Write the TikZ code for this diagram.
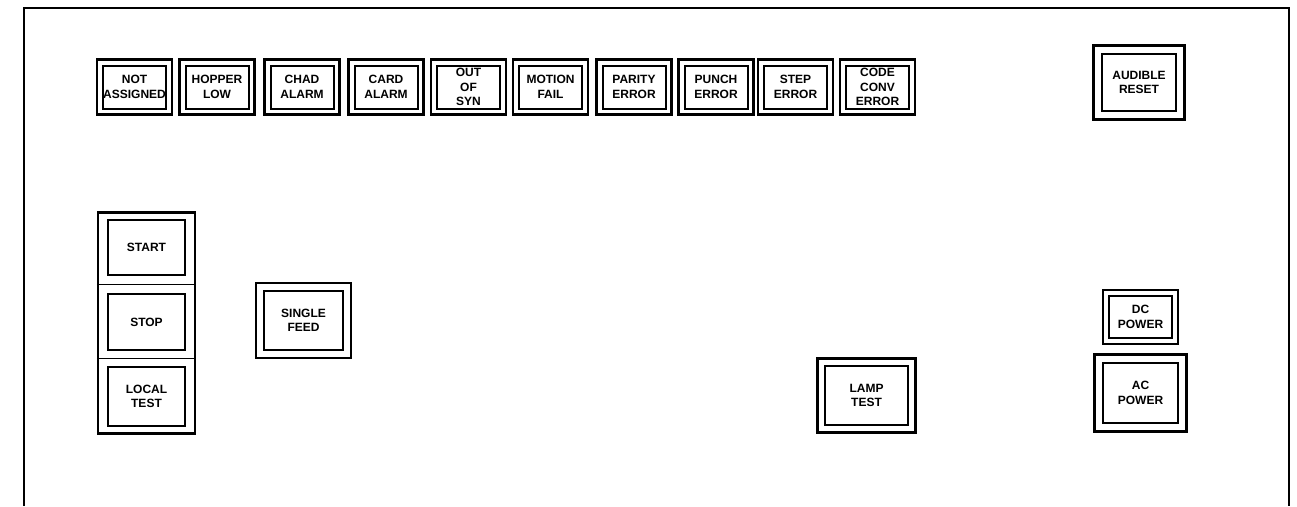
\documentclass[tikz,border=0pt]{standalone}
\usepackage{fontspec}
\setmainfont{Liberation Sans}
\usetikzlibrary{fit,calc}

\tikzset{
  lamp/.style={draw, line width=2pt, rectangle, align=center, inner sep=0pt,
    font=\fontsize{12}{14.5}\selectfont\bfseries},
  bezel/.style={draw, line width=2.2pt, rectangle, inner sep=#1},
  bezel/.default=5pt
}

\begin{document}
\begin{tikzpicture}[x=1pt, y=-1pt]
  \useasboundingbox (0,0) rectangle (1297,506);

  % panel outline, open at the bottom
  \coordinate (panel-bl) at (24,506);
  \coordinate (panel-tr) at (1289,8);
  \draw[line width=2pt] (panel-bl) |- (panel-tr) -- (panel-tr |- panel-bl);

  % indicator row
  \foreach \x/\name/\txt in {
      134.5/notassigned/{NOT\\ASSIGNED},
      217/hopperlow/{HOPPER\\LOW},
      302/chadalarm/{CHAD\\ALARM},
      386/cardalarm/{CARD\\ALARM},
      468.5/outofsyn/{OUT\\OF\\SYN},
      550.5/motionfail/{MOTION\\FAIL},
      634/parityerror/{PARITY\\ERROR},
      716/puncherror/{PUNCH\\ERROR},
      795.5/steperror/{STEP\\ERROR},
      877.5/codeconverror/{CODE\\CONV\\ERROR}}{
    \node[lamp, minimum width=63pt, minimum height=43pt] (\name) at (\x,87) {\txt};
    \node[bezel, fit=(\name)] (\name-bezel) {};
  }

  \node[lamp, minimum width=74pt, minimum height=57pt] (audiblereset) at (1139,82.5) {AUDIBLE\\RESET};
  \node[bezel=7.5pt, fit=(audiblereset)] (audiblereset-bezel) {};

  % start / stop / local test block
  \node[lamp, minimum width=77pt, minimum height=55pt] (start) at (146.5,247.5) {START};
  \node[lamp, minimum width=77pt, minimum height=56pt] (stop) at (146.5,322) {STOP};
  \node[lamp, minimum width=77pt, minimum height=59pt] (localtest) at (146.5,396.5) {LOCAL\\TEST};
  \node[draw, line width=2.2pt, inner xsep=9pt, inner ysep=6.5pt, fit=(start)(localtest)] (stack) {};
  \coordinate (div1) at ($(start.south)!.5!(stop.north)$);
  \coordinate (div2) at ($(stop.south)!.5!(localtest.north)$);
  \draw[line width=1.8pt] (stack.west |- div1) -- (stack.east |- div1);
  \draw[line width=1.8pt] (stack.west |- div2) -- (stack.east |- div2);

  \node[lamp, minimum width=79pt, minimum height=59pt] (singlefeed) at (303.5,320.5) {SINGLE\\FEED};
  \node[bezel=7pt, fit=(singlefeed)] (singlefeed-bezel) {};

  \node[lamp, minimum width=83pt, minimum height=59pt] (lamptest) at (866.5,395.5) {LAMP\\TEST};
  \node[bezel=6.5pt, fit=(lamptest)] (lamptest-bezel) {};

  % power lamps
  \node[lamp, minimum width=63pt, minimum height=42pt] (dcpower) at (1140.5,317) {DC\\POWER};
  \node[bezel, fit=(dcpower)] (dcpower-bezel) {};
  \node[lamp, minimum width=75pt, minimum height=60pt] (acpower) at (1140.5,393) {AC\\POWER};
  \node[bezel=7.5pt, fit=(acpower)] (acpower-bezel) {};
\end{tikzpicture}
\end{document}
